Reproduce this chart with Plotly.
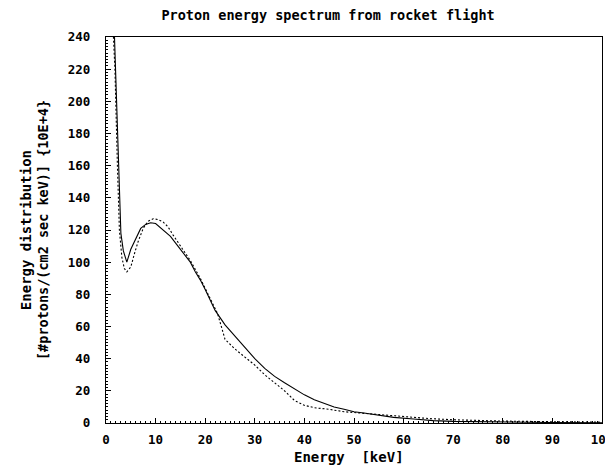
import plotly.graph_objects as go

# Solid curve (measured spectrum)
solid_energy = [1.5, 2.0, 2.5, 3.0, 3.5, 4.2, 5.0, 6.0, 7.0, 8.0, 9.0, 10.0, 11.0, 12.0,
                13.0, 14.0, 15.0, 16.0, 17.0, 18.0, 19.0, 20.0, 22.0, 24.0, 26.0, 28.0,
                30.0, 32.0, 34.0, 36.0, 38.0, 40.0, 42.0, 44.0, 46.0, 48.0, 50.0, 52.0,
                55.0, 58.0, 62.0, 66.0, 70.0, 75.0, 80.0, 90.0, 100.0]
solid_value = [260, 215, 160, 118, 107, 100, 108, 115, 121, 123.5, 124.5, 124, 121.5, 119,
               116, 112, 108, 104, 100, 94, 89, 83, 70, 61, 54, 47,
               40, 34, 29, 25, 21, 17.5, 14.5, 12, 10, 8.5, 7, 6.2,
               5, 3.5, 2.5, 1.5, 1.0, 0.8, 0.5, 0.3, 0.2]

# Dashed curve (fit)
dashed_energy = [1.2, 1.8, 2.3, 2.7, 3.2, 3.7, 4.2, 5.0, 5.8, 6.5, 7.5, 8.5, 9.5, 10.5,
                 11.5, 12.5, 13.5, 15.0, 17.0, 19.0, 21.0, 22.5, 24.0, 26.0, 28.0, 30.0,
                 32.0, 34.0, 36.0, 38.0, 40.0, 42.0, 45.0, 48.0, 52.0, 56.0, 60.0, 65.0,
                 70.0, 75.0, 80.0, 90.0, 100.0]
dashed_value = [260, 220, 160, 120, 103, 96, 94, 97, 106, 113, 121, 125.5, 127, 126.5,
                125, 122, 117, 110, 101, 90, 78, 68, 52, 46, 41, 36,
                30, 25, 20, 14, 11, 9.5, 8.5, 7, 6, 5, 4, 2.8,
                2, 1.5, 1.2, 0.8, 0.5]

x_ticks = [0, 10, 20, 30, 40, 50, 60, 70, 80, 90, 100]
y_ticks = [0, 20, 40, 60, 80, 100, 120, 140, 160, 180, 200, 220, 240]

FONT = "DejaVu Sans Mono"

fig = go.Figure()
fig.add_trace(go.Scatter(x=solid_energy, y=solid_value, mode="lines",
                         line=dict(color="black", width=1.1), showlegend=False))
fig.add_trace(go.Scatter(x=dashed_energy, y=dashed_value, mode="lines",
                         line=dict(color="black", width=1.1, dash="2px,2px"), showlegend=False))

axis_common = dict(showline=True, linecolor="black", linewidth=1.2, mirror=True,
                   showgrid=False, zeroline=False, ticks="inside", ticklen=5,
                   tickcolor="black", tickwidth=1, automargin=False,
                   ticklabeloverflow="allow",
                   tickfont=dict(family=FONT, size=12.5, color="black", weight="bold"))

fig.update_xaxes(range=[0, 100], tickvals=x_ticks, ticktext=[str(v) for v in x_ticks],
                 minor=dict(dtick=1, ticks="inside", ticklen=2, tickcolor="black"),
                 ticklabelstandoff=5, **axis_common)
fig.update_yaxes(range=[0, 240], tickvals=y_ticks, ticktext=[str(v) for v in y_ticks],
                 minor=dict(dtick=2, ticks="inside", ticklen=2, tickcolor="black"),
                 ticklabelstandoff=12, **axis_common)

fig.update_layout(
    width=605, height=460,
    margin=dict(l=98, r=11, t=29, b=45),
    plot_bgcolor="white", paper_bgcolor="white",
    title=dict(text="Proton energy spectrum from rocket flight",
               xref="container", x=0.529, xanchor="center",
               yref="container", y=0.984, yanchor="middle",
               font=dict(family=FONT, size=13.5, color="black", weight="bold")),
    annotations=[
        dict(text="Energy  [keV]", xref="paper", yref="paper", x=0.49, y=-0.088,
             xanchor="center", yanchor="middle", showarrow=False,
             font=dict(family=FONT, size=14, color="black", weight="bold")),
        dict(text="Energy distribution", xref="paper", yref="paper", x=-0.161, y=0.5,
             xanchor="center", yanchor="middle", showarrow=False, textangle=-90,
             font=dict(family=FONT, size=14, color="black", weight="bold")),
        dict(text="[#protons/(cm2 sec keV)] {10E+4}", xref="paper", yref="paper",
             x=-0.127, y=0.5, xanchor="center", yanchor="middle", showarrow=False,
             textangle=-90,
             font=dict(family=FONT, size=13.5, color="black", weight="bold")),
    ],
)

fig.write_html("out.html")
